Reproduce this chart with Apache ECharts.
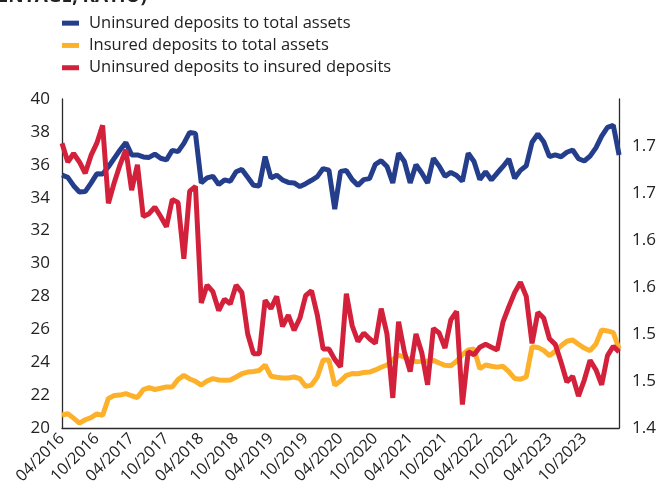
<!DOCTYPE html>
<html>
<head>
<meta charset="utf-8">
<script src="https://cdn.jsdelivr.net/npm/echarts@6/dist/echarts.min.js"></script>
<style>
html,body{margin:0;padding:0;background:#fff;}
#chart{width:659px;height:491px;}
</style>
</head>
<body>
<div id="chart"></div>
<script>
// Monthly categories 04/2016 .. 04/2024
const categories = [];
for (let y = 2016, m = 4; y < 2024 || (y === 2024 && m <= 4); ) {
  categories.push((m < 10 ? '0' + m : '' + m) + '/' + y);
  m++; if (m > 12) { m = 1; y++; }
}

const tickLabels = ['04/2016','10/2016','04/2017','10/2017','04/2018','10/2018','04/2019','10/2019',
  '04/2020','10/2020','04/2021','10/2021','04/2022','10/2022','04/2023','10/2023'];

const leftTicks = { min: 20, max: 40, step: 2 };
const rightTicks = { min: 1.4, max: 1.75, step: 0.05 };

const uninsuredToAssets = [
  35.38,35.24,34.73,34.35,34.37,34.89,35.45,35.44,35.88,36.39,
  36.9,37.35,36.6,36.6,36.48,36.45,36.65,36.4,36.3,36.88,
  36.8,37.3,37.97,37.9,34.9,35.2,35.3,34.8,35.08,35.0,
  35.58,35.72,35.24,34.76,34.71,36.5,35.2,35.37,35.08,34.93,
  34.9,34.68,34.85,35.06,35.28,35.77,35.68,33.3,35.6,35.65,
  35.1,34.75,35.1,35.16,36.03,36.25,35.9,34.9,36.7,36.2,
  34.9,36.0,35.5,34.9,36.4,35.92,35.3,35.54,35.35,35.0,
  36.7,36.2,35.1,35.58,35.08,35.5,35.9,36.35,35.18,35.66,
  35.94,37.37,37.87,37.4,36.5,36.6,36.49,36.76,36.9,36.37,
  36.23,36.53,37.03,37.74,38.27,38.4,36.6
];

const insuredToAssets = [
  20.79,20.87,20.6,20.3,20.5,20.63,20.86,20.77,21.8,21.97,
  22.0,22.09,21.96,21.85,22.33,22.45,22.34,22.42,22.5,22.49,
  22.95,23.2,22.98,22.84,22.61,22.86,23.0,22.92,22.9,22.92,
  23.1,23.3,23.4,23.44,23.5,23.83,23.15,23.09,23.04,23.04,
  23.1,23.0,22.53,22.61,23.1,24.13,24.13,22.6,22.86,23.2,
  23.31,23.3,23.37,23.4,23.53,23.69,23.83,24.15,24.44,24.3,
  24.16,24.03,24.05,24.08,24.11,23.95,23.81,23.78,24.06,24.46,
  24.74,24.8,23.6,23.83,23.75,23.7,23.75,23.43,23.01,22.97,
  23.1,24.94,24.9,24.72,24.4,24.66,25.0,25.27,25.35,25.09,
  24.86,24.7,25.1,25.96,25.9,25.8,24.8
];

const uninsuredToInsured = [
  1.703,1.683,1.692,1.683,1.671,1.690,1.703,1.722,1.639,1.661,
  1.680,1.696,1.653,1.680,1.625,1.628,1.635,1.625,1.614,1.643,
  1.640,1.580,1.652,1.657,1.533,1.552,1.545,1.525,1.537,1.532,
  1.552,1.544,1.500,1.479,1.479,1.536,1.527,1.540,1.508,1.520,
  1.504,1.517,1.541,1.546,1.520,1.484,1.484,1.473,1.465,1.543,
  1.509,1.492,1.501,1.495,1.490,1.527,1.500,1.432,1.513,1.481,
  1.460,1.500,1.480,1.446,1.506,1.501,1.485,1.515,1.524,1.425,
  1.481,1.478,1.486,1.489,1.486,1.483,1.513,1.529,1.544,1.555,
  1.540,1.490,1.523,1.517,1.495,1.489,1.470,1.449,1.455,1.434,
  1.451,1.472,1.462,1.446,1.477,1.487,1.481
];

const seriesNames = ['Uninsured deposits to total assets','Insured deposits to total assets','Uninsured deposits to insured deposits'];
const colors = ['#243e8c','#fdb12b','#d3213c'];

const FONT = '"Open Sans", sans-serif';
const chart = echarts.init(document.getElementById('chart'), null, {renderer: 'canvas'});
const axisLineStyle = { show: true, lineStyle: { color: '#2a2a2a', width: 1.3 } };

chart.setOption({
  animation: false,
  backgroundColor: '#fff',
  color: colors,
  graphic: [{
    type: 'text', x: 147, y: 6,
    style: { text: '(PERCENTAGE, RATIO)', font: 'bold 19px ' + FONT, fill: '#222',
      textAlign: 'right', textVerticalAlign: 'bottom' }
  }],
  legend: {
    orient: 'vertical', left: 57, top: 7, itemGap: 0,
    itemWidth: 17, itemHeight: 5, icon: 'rect',
    textStyle: { fontFamily: FONT, fontSize: 16.5, color: '#222', lineHeight: 22.3, padding: [0,0,0,5] },
    data: seriesNames
  },
  grid: { left: 62, right: 37, top: 99, bottom: 63, containLabel: false },
  xAxis: {
    type: 'category', boundaryGap: false, data: categories,
    axisLine: axisLineStyle, axisTick: { show: false },
    axisLabel: {
      interval: (idx, val) => tickLabels.indexOf(val) >= 0,
      rotate: 45, margin: 8, fontFamily: FONT, fontSize: 16, color: '#222'
    },
    splitLine: { show: false }
  },
  yAxis: [{
    type: 'value', min: leftTicks.min, max: leftTicks.max, interval: leftTicks.step,
    axisLine: axisLineStyle, axisTick: { show: false }, splitLine: { show: false },
    axisLabel: { margin: 12, fontFamily: FONT, fontSize: 17, color: '#222' }
  }, {
    type: 'value', min: rightTicks.min, max: rightTicks.max, interval: rightTicks.step,
    position: 'right',
    axisLine: axisLineStyle, axisTick: { show: false }, splitLine: { show: false },
    axisLabel: { margin: 13, fontFamily: FONT, fontSize: 17, color: '#222', showMaxLabel: false,
      formatter: v => (Math.round(v * 10 + 1e-6) / 10).toFixed(1) }
  }],
  series: [
    { name: seriesNames[0], type: 'line', data: uninsuredToAssets, yAxisIndex: 0,
      showSymbol: false, lineStyle: { width: 5, color: colors[0] }, itemStyle: { color: colors[0] } },
    { name: seriesNames[1], type: 'line', data: insuredToAssets, yAxisIndex: 0,
      showSymbol: false, lineStyle: { width: 5, color: colors[1] }, itemStyle: { color: colors[1] } },
    { name: seriesNames[2], type: 'line', data: uninsuredToInsured, yAxisIndex: 1,
      showSymbol: false, lineStyle: { width: 5, color: colors[2] }, itemStyle: { color: colors[2] } }
  ]
});
</script>
</body>
</html>
